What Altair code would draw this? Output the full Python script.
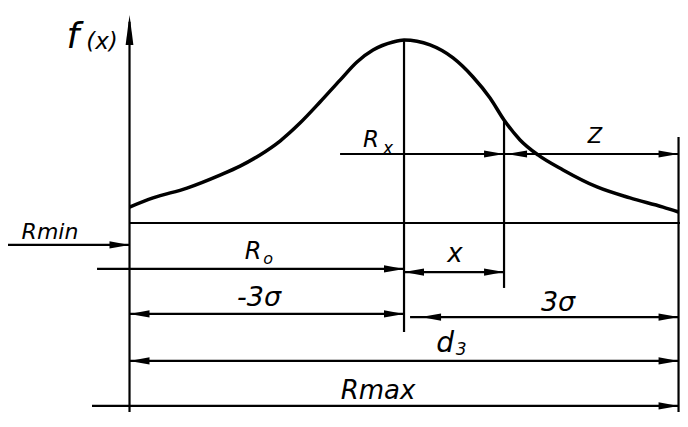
import altair as alt
import pandas as pd

# Curve f(x): x in sigma units from the mean, f relative to the peak
curve_sigma = [-3.0, -2.743, -2.372, -2.011, -1.792, -1.574, -1.355, -1.137, -0.918,
               -0.699, -0.514, -0.339, -0.120, 0.0, 0.284, 0.536, 0.754, 0.940, 1.093,
               1.268, 1.464, 1.738, 2.109, 2.470, 2.831, 3.0]
curve_f = [0.087, 0.137, 0.191, 0.262, 0.311, 0.372, 0.448, 0.546, 0.661,
           0.781, 0.880, 0.945, 0.989, 1.0, 0.973, 0.902, 0.798, 0.683, 0.563,
           0.454, 0.372, 0.290, 0.197, 0.137, 0.087, 0.060]

# Construction lines (sigma units / relative f units)
line_x1 = [-3.0, -0.699, 1.093, -4.328, -3.355, 0.0, -3.0, 0.066, -3.0, -3.41, -3.0, 0.0, 1.093, 3.0]
line_x2 = [3.016, 1.093, 3.0, -3.0, 0.0, 1.093, 0.0, 3.0, 3.0, 3.0, -3.0, 0.0, 1.093, 3.0]
line_y1 = [0.0, 0.377, 0.377, -0.120, -0.251, -0.268, -0.497, -0.514, -0.754, -1.0, -1.033, -0.596, -0.355, -1.033]
line_y2 = [0.0, 0.377, 0.377, -0.120, -0.251, -0.268, -0.497, -0.514, -0.754, -1.0, 1.10, 1.0, 0.563, 0.47]

# Arrow heads
right_x = [1.093, 3.0, -3.0, 0.0, 1.093, 0.0, 3.0, 3.0, 3.0]
right_y = [0.377, 0.377, -0.120, -0.251, -0.268, -0.497, -0.514, -0.754, -1.0]
left_x = [1.126, 0.0, -3.0, 0.186, -3.0]
left_y = [0.377, -0.268, -0.497, -0.514, -0.754]
up_x = [-3.0]
up_y = [1.137]

# Labels
label_text = ["f", "(x)", "R", "x", "Z", "Rmin", "R", "o", "x", "-3σ", "3σ", "d", "3", "Rmax"]
label_x = [-3.620, -3.300, -0.361, -0.175, 2.087, -3.869, -1.650, -1.486, 0.557, -1.585, 1.683, 0.448, 0.623, -0.284]
label_y = [1.016, 0.990, 0.454, 0.405, 0.470, -0.049, -0.158, -0.197, -0.169, -0.410, -0.437, -0.661, -0.694, -0.918]
label_size = [36, 23, 23, 17, 21, 22, 24, 16, 26, 27, 27, 28, 17, 26]

xscale = alt.Scale(domain=[-4.328, 3.016], nice=False, zero=False)
yscale = alt.Scale(domain=[-1.033, 1.175], nice=False, zero=False)

curve_df = pd.DataFrame({"s": curve_sigma, "f": curve_f})
lines_df = pd.DataFrame({"x1": line_x1, "x2": line_x2, "y1": line_y1, "y2": line_y2})
right_df = pd.DataFrame({"x": right_x, "y": right_y})
left_df = pd.DataFrame({"x": left_x, "y": left_y})
up_df = pd.DataFrame({"x": up_x, "y": up_y})
text_df = pd.DataFrame({"t": label_text, "x": label_x, "y": label_y, "fs": label_size})

curve = alt.Chart(curve_df).mark_line(color="black", strokeWidth=3.5, interpolate="monotone").encode(
    x=alt.X("s:Q", scale=xscale, axis=None),
    y=alt.Y("f:Q", scale=yscale, axis=None),
)

lines = alt.Chart(lines_df).mark_rule(color="black", strokeWidth=2.2).encode(
    x=alt.X("x1:Q", scale=xscale, axis=None),
    x2="x2:Q",
    y=alt.Y("y1:Q", scale=yscale, axis=None),
    y2="y2:Q",
)


def heads(df, path, size):
    return alt.Chart(df).mark_point(shape=path, filled=True, color="black", opacity=1,
                                    size=size, strokeWidth=0).encode(
        x=alt.X("x:Q", scale=xscale, axis=None),
        y=alt.Y("y:Q", scale=yscale, axis=None),
    )


right_heads = heads(right_df, "M0,0 L-1,-0.18 L-1,0.18 Z", 1600)
left_heads = heads(left_df, "M0,0 L1,-0.18 L1,0.18 Z", 1600)
up_heads = heads(up_df, "M0,0 L-0.13,1 L0.13,1 Z", 3600)

texts = alt.Chart(text_df).mark_text(color="black", font="DejaVu Sans", fontStyle="italic",
                                     baseline="middle", align="center").encode(
    x=alt.X("x:Q", scale=xscale, axis=None),
    y=alt.Y("y:Q", scale=yscale, axis=None),
    text="t:N",
    size=alt.Size("fs:Q", scale=None, legend=None),
)

chart = alt.layer(lines, curve, right_heads, left_heads, up_heads, texts).properties(
    width=672, height=404, padding=0,
    autosize=alt.AutoSizeParams(type="none"),
    background="white",
).configure_view(stroke=None)

chart.save("out.html", embed_options={"renderer": "svg", "actions": False})
